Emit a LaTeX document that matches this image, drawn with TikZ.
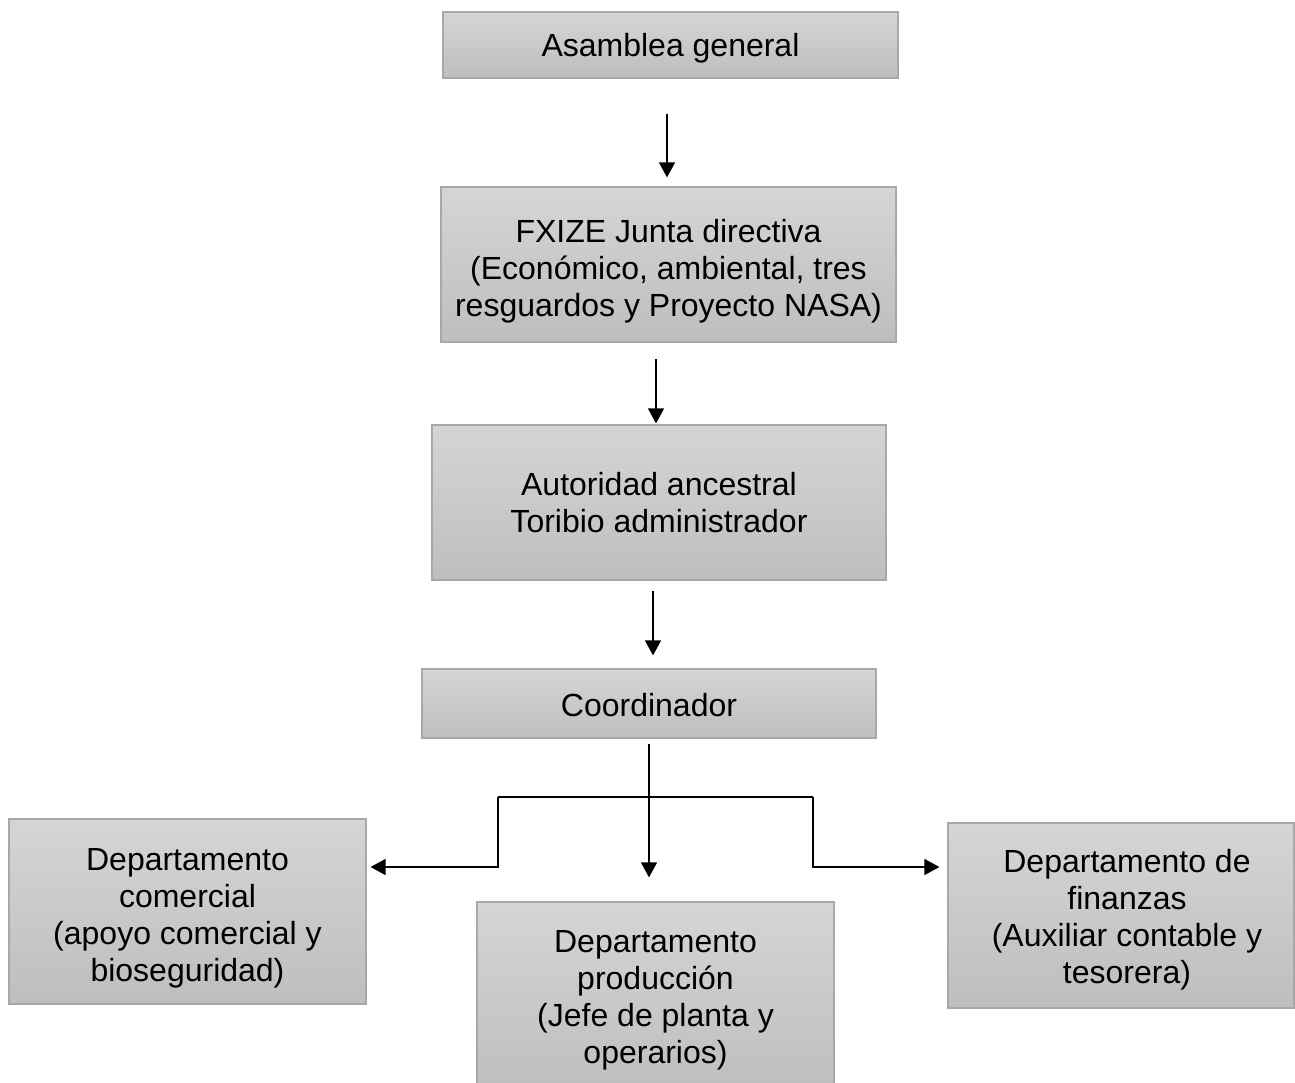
\documentclass[tikz,border=0pt]{standalone}
\usepackage{fontspec}
\setmainfont{Liberation Sans}
\usetikzlibrary{arrows.meta}
\definecolor{boxtop}{HTML}{D5D5D5}
\definecolor{boxbot}{HTML}{BEBEBE}
\definecolor{boxline}{HTML}{A8A8A8}
\begin{document}
\begin{tikzpicture}[x=1pt,y=-1pt,
  orgbox/.style={draw=boxline, line width=1.2pt, top color=boxtop, bottom color=boxbot,
    inner sep=0pt},
  txt/.style={inner sep=0pt, align=center, font=\fontsize{32}{37}\selectfont},
  arr/.style={line width=1.3pt, -{Triangle[width=16pt,length=15pt]}},
  plain/.style={line width=1.3pt}]
\useasboundingbox (0,0) rectangle (1295,1082);
\clip (0,0) rectangle (1295,1082);
\fill[white] (0,0) rectangle (1295,1082);

\node[orgbox, minimum width=455pt, minimum height=66pt] (asam) at (670.5,45) {};
\node[txt] (asamt) at ([yshift=-3pt]asam.center) {Asamblea general};

\node[orgbox, minimum width=455pt, minimum height=155pt] (fx) at (668.5,264.5) {};
\node[txt] (fxt) at ([yshift=-6.5pt]fx.center)
  {FXIZE Junta directiva\\(Económico, ambiental, tres\\resguardos y Proyecto NASA)};

\node[orgbox, minimum width=454pt, minimum height=155pt] (aut) at (659,502.5) {};
\node[txt] (autt) at ([yshift=-0.5pt]aut.center) {Autoridad ancestral\\Toribio administrador};

\node[orgbox, minimum width=454pt, minimum height=69pt] (coord) at (649,703.5) {};
\node[txt] (coordt) at ([yshift=-2pt]coord.center) {Coordinador};

\node[orgbox, minimum width=357pt, minimum height=185pt] (left) at (187.5,911.5) {};
\node[txt] (leftt) at ([yshift=-7pt]left.center)
  {Departamento\\comercial\\(apoyo comercial y\\bioseguridad)};

\node[orgbox, minimum width=357pt, minimum height=190pt] (mid) at (655.5,997) {};
\node[txt] (midt) at ([yshift=-3.5pt]mid.center)
  {Departamento\\producción\\(Jefe de planta y\\operarios)};

\node[orgbox, minimum width=346pt, minimum height=185pt] (right) at (1121,915.5) {};
\node[txt] (rightt) at ([xshift=6pt,yshift=-4pt]right.center)
  {Departamento de\\finanzas\\(Auxiliar contable y\\tesorera)};

\draw[arr] ([xshift=-3.5pt,yshift=-35pt]asam.south) -- ([xshift=-1.5pt,yshift=9pt]fx.north);
\draw[arr] ([xshift=-12.5pt,yshift=-16pt]fx.south) -- ([xshift=-3pt,yshift=1pt]aut.north);
\draw[arr] ([xshift=-6pt,yshift=-10pt]aut.south) -- ([xshift=4pt,yshift=13pt]coord.north);
\draw[arr] ([yshift=-5pt]coord.south) -- ([xshift=-6.5pt,yshift=24pt]mid.north);

\coordinate (jl) at (498,797);
\coordinate (jr) at (813,797);
\draw[plain] (jl) -- (jr);
\draw[arr] (jl) |- ([xshift=4pt,yshift=44.5pt]left.east);
\draw[arr] (jr) |- ([xshift=-8pt,yshift=48.5pt]right.west);
\end{tikzpicture}
\end{document}
